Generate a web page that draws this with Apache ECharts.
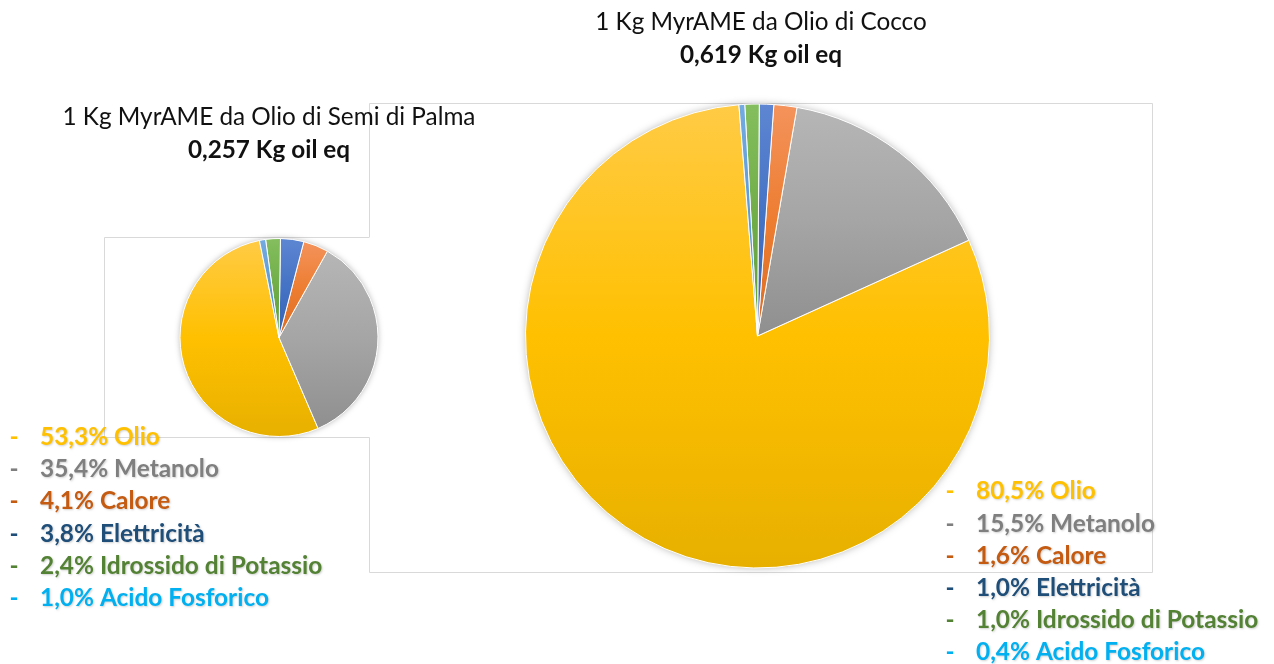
<!DOCTYPE html>
<html>
<head>
<meta charset="utf-8">
<script src="https://cdn.jsdelivr.net/npm/echarts@6/dist/echarts.min.js"></script>
<style>
  html, body { margin: 0; padding: 0; background: #ffffff; }
  #chart { width: 1274px; height: 664px; }
</style>
</head>
<body>
<div id="chart"></div>
<script>
// Impact breakdown (share of oil equivalent) for 1 kg of MyrAME
const categories = ['Olio', 'Metanolo', 'Calore', 'Elettricità', 'Idrossido di Potassio', 'Acido Fosforico'];
const palmaShares = [53.3, 35.4, 4.1, 3.8, 2.4, 1.0];
const coccoShares = [80.5, 15.5, 1.6, 1.0, 1.0, 0.4];
const palmaTitle = ['1 Kg MyrAME da Olio di Semi di Palma', '0,257 Kg oil eq'];
const coccoTitle = ['1 Kg MyrAME da Olio di Cocco', '0,619 Kg oil eq'];

// slice fills (top -> bottom gradient) and text colours per category
const sliceFills = [
  ['#FFCB45', '#FFC000', '#E7B000'],
  ['#B6B6B6', '#A5A5A5', '#8F8F8F'],
  ['#F4935C', '#ED7D31', '#DC6C22'],
  ['#5E86D2', '#4472C4', '#3862B2'],
  ['#84BE5E', '#70AD47', '#619C3A'],
  ['#74ABE0', '#5B9BD5', '#4A8AC4']
];
const textColors = ['#FFC000', '#7F7F7F', '#C55A11', '#1F4E79', '#548235', '#00B0F0'];

const FONT = 'Lato, "Open Sans", sans-serif';
const TITLE_SIZE = 24.3;
const LIST_SIZE = 24.4;

function grad(stops) {
  return new echarts.graphic.LinearGradient(0, 0, 0, 1, [
    { offset: 0, color: stops[0] },
    { offset: 0.5, color: stops[1] },
    { offset: 1, color: stops[2] }
  ]);
}

function pieData(values) {
  return values.map((v, i) => ({
    name: categories[i],
    value: v,
    itemStyle: { color: grad(sliceFills[i]) }
  }));
}

function fmt(v) {
  return v.toFixed(1).replace('.', ',') + '%';
}

function legendBlock(values, dashX, textX, y0, step) {
  const out = [];
  values.forEach((v, i) => {
    const y = y0 + i * step;
    out.push({
      type: 'text', x: dashX, y: y, z: 10,
      style: { text: '-', font: 'bold ' + LIST_SIZE + 'px ' + FONT, fill: textColors[i], align: 'center', verticalAlign: 'middle' }
    });
    out.push({
      type: 'text', x: textX, y: y, z: 10,
      style: {
        text: fmt(v) + ' ' + categories[i], font: 'bold ' + LIST_SIZE + 'px ' + FONT, fill: textColors[i],
        align: 'left', verticalAlign: 'middle',
        textShadowColor: 'rgba(0,0,0,0.18)', textShadowBlur: 2, textShadowOffsetX: 1, textShadowOffsetY: 1
      }
    });
  });
  return out;
}

const frame = { stroke: '#D9D9D9', lineWidth: 1, fill: null };

const graphics = [
  // chart frames
  { type: 'polyline', z: 0, shape: { points: [[369.5, 237], [369.5, 103.5], [1152.5, 103.5], [1152.5, 572.5], [369.5, 572.5], [369.5, 437.5]] }, style: frame },
  { type: 'polyline', z: 0, shape: { points: [[369.5, 237.5], [104.5, 237.5], [104.5, 437.5], [369.5, 437.5]] }, style: frame },
  // soft shadow under each pie
  { type: 'circle', z: 0, shape: { cx: 757.5, cy: 336, r: 231 }, style: { fill: '#ffffff', shadowBlur: 8, shadowColor: 'rgba(0,0,0,0.35)' } },
  { type: 'circle', z: 0, shape: { cx: 279, cy: 337.5, r: 98.5 }, style: { fill: '#ffffff', shadowBlur: 6, shadowColor: 'rgba(0,0,0,0.35)' } },
  // titles
  { type: 'text', x: 761, y: 22, z: 10, style: { text: coccoTitle[0], font: TITLE_SIZE + 'px ' + FONT, fill: '#111', align: 'center', verticalAlign: 'middle' } },
  { type: 'text', x: 761, y: 55, z: 10, style: { text: coccoTitle[1], font: 'bold ' + TITLE_SIZE + 'px ' + FONT, fill: '#111', align: 'center', verticalAlign: 'middle' } },
  { type: 'text', x: 269, y: 117, z: 10, style: { text: palmaTitle[0], font: TITLE_SIZE + 'px ' + FONT, fill: '#111', align: 'center', verticalAlign: 'middle' } },
  { type: 'text', x: 269, y: 150, z: 10, style: { text: palmaTitle[1], font: 'bold ' + TITLE_SIZE + 'px ' + FONT, fill: '#111', align: 'center', verticalAlign: 'middle' } }
].concat(legendBlock(palmaShares, 14, 40, 437, 32.3))
 .concat(legendBlock(coccoShares, 950, 976, 491.5, 32.2));

const pieCommon = {
  type: 'pie',
  clockwise: false,
  silent: true,
  animation: false,
  label: { show: false },
  labelLine: { show: false },
  emphasis: { disabled: true },
  itemStyle: { borderColor: '#ffffff', borderWidth: 1 },
  z: 2
};

const chart = echarts.init(document.getElementById('chart'), null, { renderer: 'canvas' });
chart.setOption({
  backgroundColor: '#ffffff',
  animation: false,
  graphic: graphics,
  series: [
    Object.assign({}, pieCommon, {
      name: coccoTitle[0],
      center: [757.5, 336],
      radius: 232,
      startAngle: 94.6,
      data: pieData(coccoShares)
    }),
    Object.assign({}, pieCommon, {
      name: palmaTitle[0],
      center: [279, 337.5],
      radius: 99,
      startAngle: 101.4,
      data: pieData(palmaShares)
    })
  ]
});
</script>
</body>
</html>
